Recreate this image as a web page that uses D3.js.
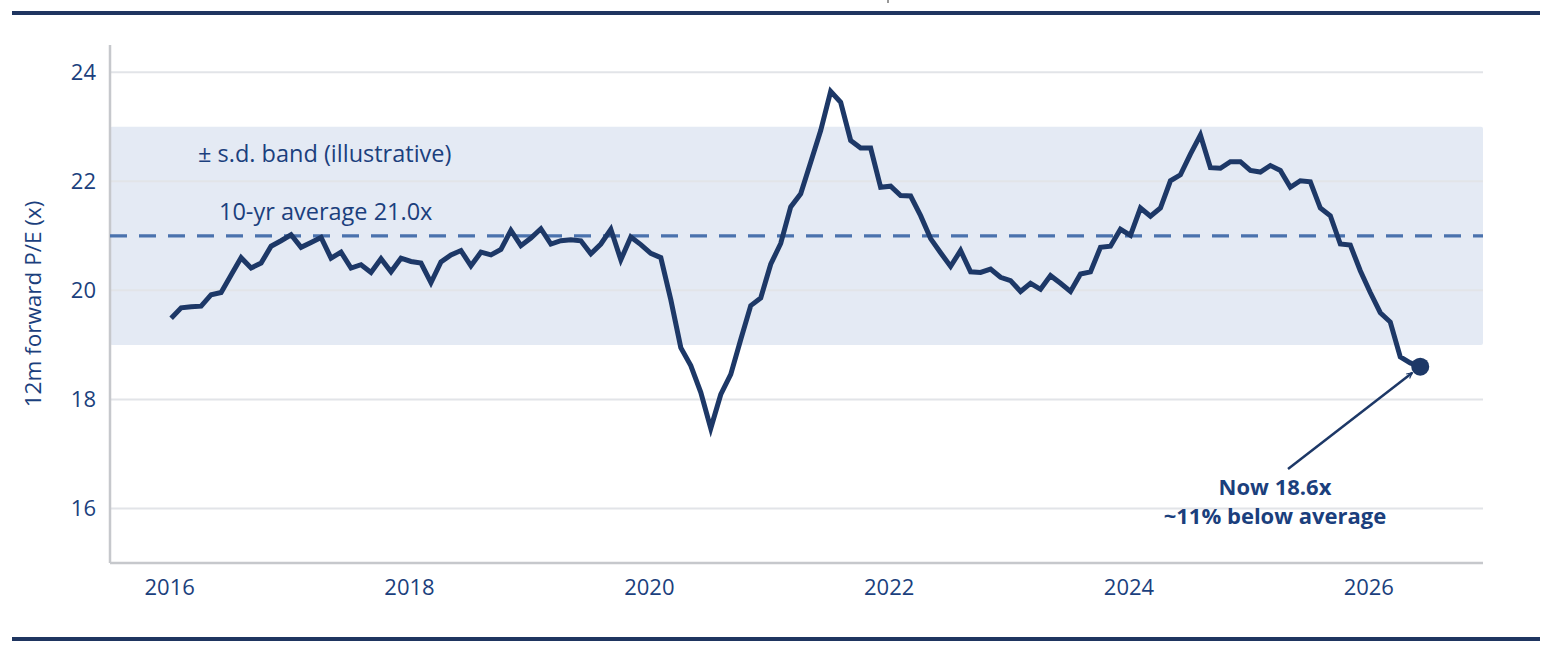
<!DOCTYPE html>
<html>
<head>
<meta charset="utf-8">
<script src="https://cdn.jsdelivr.net/npm/d3@7"></script>
<style>
    html, body { margin: 0; padding: 0; background: #ffffff; }
    svg { display: block; font-family: "Open Sans", Lato, sans-serif; }
</style>
</head>
<body>
<script>
// monthly 12m forward P/E, Jan 2016 .. Jun 2026
const startYear = 2016
const peValues = [
    19.49, 19.68, 19.70, 19.71, 19.92, 19.96, 20.28, 20.60, 20.41, 20.50, 20.81, 20.91,
    21.02, 20.79, 20.88, 20.97, 20.59, 20.70, 20.41, 20.47, 20.33, 20.58, 20.34, 20.59,
    20.53, 20.50, 20.14, 20.52, 20.65, 20.73, 20.45, 20.70, 20.65, 20.75, 21.10, 20.82,
    20.96, 21.13, 20.85, 20.91, 20.93, 20.91, 20.67, 20.85, 21.12, 20.56, 20.98, 20.84,
    20.68, 20.60, 19.83, 18.95, 18.62, 18.13, 17.47, 18.09, 18.46, 19.10, 19.72, 19.86,
    20.48, 20.86, 21.53, 21.77, 22.35, 22.93, 23.65, 23.45, 22.75, 22.61, 22.61, 21.89,
    21.91, 21.74, 21.73, 21.37, 20.95, 20.69, 20.44, 20.73, 20.34, 20.33, 20.39, 20.24,
    20.18, 19.98, 20.13, 20.02, 20.27, 20.13, 19.98, 20.30, 20.34, 20.79, 20.81, 21.12,
    21.01, 21.51, 21.36, 21.51, 22.01, 22.12, 22.50, 22.85, 22.25, 22.24, 22.36, 22.36,
    22.20, 22.17, 22.29, 22.20, 21.89, 22.01, 21.99, 21.51, 21.37, 20.85, 20.83, 20.36,
    19.96, 19.59, 19.42, 18.78, 18.67, 18.60
]
const yearTicks = [2016, 2018, 2020, 2022, 2024, 2026]
const peTicks = [16, 18, 20, 22, 24]
const average = 21.0
const band = [19, 23]
const nowLabel = ["Now 18.6x", "~11% below average"]

const W = 1554, H = 649
const ivp = {x: 110, y: 45, w: 1483, h: 563}
const navy = "#1d3867"
const textBlue = "#1b3f7d"

const data = peValues.map((v, i) => ({t: startYear + i / 12, v: v}))

const xScale = d3.scaleLinear().domain([2015.49, 2026.94]).range([ivp.x, ivp.w])
const yScale = d3.scaleLinear().domain([15, 24.5]).range([ivp.h, ivp.y])

const svg = d3.select("body").append("svg")
    .attr("width", W)
    .attr("height", H)

// frame rules
svg.append("rect").attr("x", 12).attr("y", 11).attr("width", 1528).attr("height", 4).attr("fill", "#1f3560")
svg.append("rect").attr("x", 12).attr("y", 637).attr("width", 1528).attr("height", 4).attr("fill", "#1f3560")
svg.append("line").attr("x1", 888).attr("x2", 888).attr("y1", 0).attr("y2", 3)
    .attr("stroke", "#333").attr("stroke-width", 1)

// s.d. band
svg.append("rect")
    .attr("x", ivp.x)
    .attr("y", yScale(band[1]))
    .attr("width", ivp.w - ivp.x)
    .attr("height", yScale(band[0]) - yScale(band[1]))
    .attr("rx", 2)
    .attr("fill", "#e4eaf4")

// gridlines
svg.append("g")
    .selectAll("line")
    .data(peTicks)
    .enter()
    .append("line")
    .attr("x1", ivp.x)
    .attr("x2", ivp.w)
    .attr("y1", d => yScale(d))
    .attr("y2", d => yScale(d))
    .attr("stroke", "#e2e4e8")
    .attr("stroke-width", 2)

// axes lines
svg.append("line").attr("x1", ivp.x).attr("x2", ivp.x).attr("y1", ivp.y).attr("y2", ivp.h)
    .attr("stroke", "#c6c8cc").attr("stroke-width", 2.5)
svg.append("line").attr("x1", ivp.x).attr("x2", ivp.w).attr("y1", ivp.h).attr("y2", ivp.h)
    .attr("stroke", "#c6c8cc").attr("stroke-width", 2.5)

// tick labels
const yAxis = svg.append("g")
    .attr("transform", `translate(${ivp.x - 14},0)`)
    .call(d3.axisLeft(yScale).tickValues(peTicks).tickSize(0).tickPadding(0).tickFormat(d3.format("d")))
yAxis.select(".domain").remove()
yAxis.selectAll("text")
    .attr("fill", textBlue)
    .attr("font-size", 22)
    .attr("font-family", "'Open Sans', sans-serif")

const xAxis = svg.append("g")
    .attr("transform", `translate(-2,${ivp.h})`)
    .call(d3.axisBottom(xScale).tickValues(yearTicks).tickSize(0).tickPadding(16).tickFormat(d3.format("d")))
xAxis.select(".domain").remove()
xAxis.selectAll("text")
    .attr("fill", textBlue)
    .attr("font-size", 22)
    .attr("font-family", "'Open Sans', sans-serif")

// y axis title
svg.append("text")
    .attr("transform", `translate(41,${(ivp.y + ivp.h) / 2}) rotate(-90)`)
    .attr("text-anchor", "middle")
    .attr("fill", textBlue)
    .attr("font-size", 22.5)
    .text("12m forward P/E (x)")

// average line
svg.append("line")
    .attr("x1", ivp.x)
    .attr("x2", ivp.w)
    .attr("y1", yScale(average))
    .attr("y2", yScale(average))
    .attr("stroke", "#4a72ad")
    .attr("stroke-width", 3.2)
    .attr("stroke-dasharray", "17,12")

svg.append("text")
    .attr("x", 219)
    .attr("y", yScale(average) - 16)
    .attr("fill", textBlue)
    .attr("font-size", 23.5)
    .text(`10-yr average ${average.toFixed(1)}x`)

svg.append("text")
    .attr("x", 198)
    .attr("y", 162)
    .attr("fill", textBlue)
    .attr("font-size", 23.5)
    .text("± s.d. band (illustrative)")

// P/E line
const line = d3.line()
    .x(d => xScale(d.t))
    .y(d => yScale(d.v))

svg.append("path")
    .datum(data)
    .attr("d", line)
    .attr("fill", "none")
    .attr("stroke", navy)
    .attr("stroke-width", 5)
    .attr("stroke-linejoin", "miter")

// latest point + annotation
const last = data[data.length - 1]
const lx = xScale(last.t), ly = yScale(last.v)

svg.append("defs").append("marker")
    .attr("id", "arrow")
    .attr("viewBox", "0 0 10 10")
    .attr("refX", 9)
    .attr("refY", 5)
    .attr("markerWidth", 7)
    .attr("markerHeight", 7)
    .attr("markerUnits", "userSpaceOnUse")
    .attr("orient", "auto")
    .append("path")
    .attr("d", "M1,1 L9,5 L1,9")
    .attr("fill", "none")
    .attr("stroke", navy)
    .attr("stroke-width", 1.6)

const ax = 1288, ay = 469
const ang = Math.atan2(ly - ay, lx - ax)
svg.append("line")
    .attr("x1", ax)
    .attr("y1", ay)
    .attr("x2", lx - Math.cos(ang) * 10)
    .attr("y2", ly - Math.sin(ang) * 10)
    .attr("stroke", navy)
    .attr("stroke-width", 2.5)
    .attr("marker-end", "url(#arrow)")

svg.append("circle")
    .attr("cx", lx)
    .attr("cy", ly)
    .attr("r", 9)
    .attr("fill", navy)

svg.append("g")
    .selectAll("text")
    .data(nowLabel)
    .enter()
    .append("text")
    .attr("x", 1275)
    .attr("y", (d, i) => 495 + i * 29)
    .attr("text-anchor", "middle")
    .attr("fill", textBlue)
    .attr("font-size", 22)
    .attr("font-weight", "bold")
    .text(d => d)
</script>
</body>
</html>
